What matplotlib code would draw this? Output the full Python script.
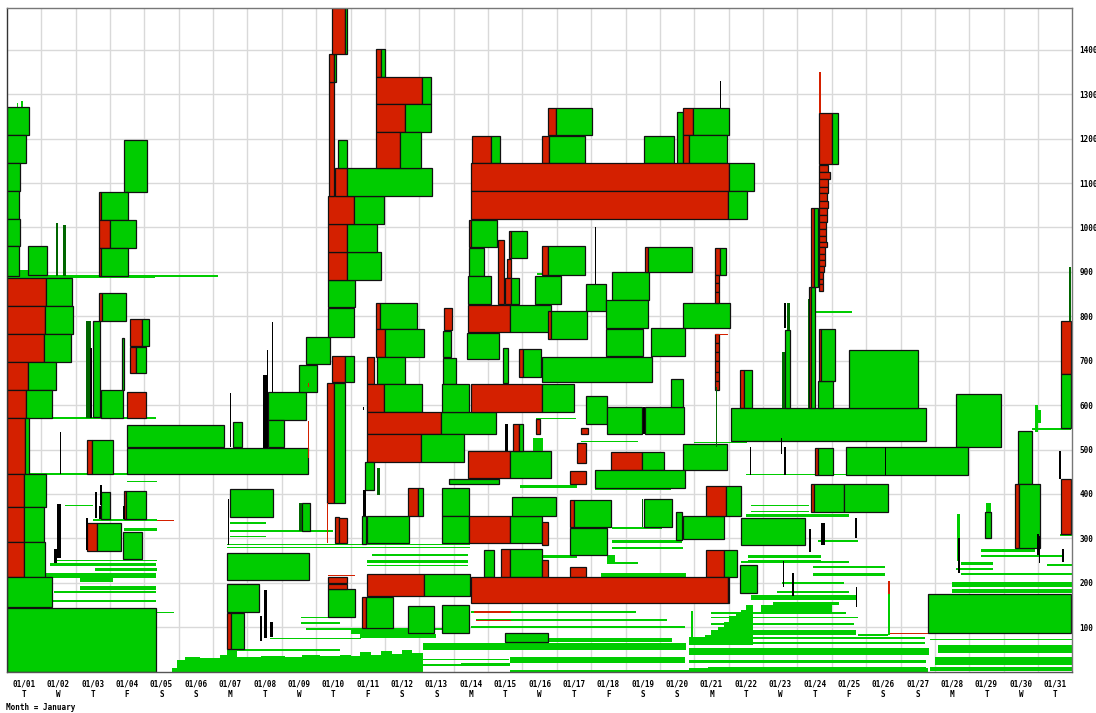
#Month view of blocks per day, red part then green part
import matplotlib
matplotlib.use('Agg')
import matplotlib.pyplot as plt

green = '#00cc00'
dark_green = '#006600'
red = '#d42000'

day_labels = ['01/%02d' % d for d in range(1, 32)]
weekdays = list('TWTFSSMTWTFSSMTWTFSSMTWTFSSMTWT')
value_ticks = list(range(100, 1500, 100))

# (start day, day where red stops, end day, low, high)
blocks_week1 = [
    (0, 0, .64, 1209, 1271), (0, 0, .55, 1146, 1209), (0, 0, .38, 1083, 1146),
    (0, 0, .35, 1020, 1083), (0, 0, .38, 958, 1020), (0, 0, .35, 891, 958),
    (.62, .62, 1.16, 893, 958), (3.40, 3.40, 4.07, 1079, 1196),
    (2.67, 2.73, 3.52, 1016, 1079), (2.67, 3.01, 3.76, 954, 1016), (2.67, 2.73, 3.52, 891, 954),
    (0, 1.13, 1.89, 823, 886), (0, 1.10, 1.92, 760, 823), (0, 1.08, 1.86, 698, 760),
    (0, .625, 1.42, 635, 698), (0, .55, 1.31, 572, 635), (0, .52, .64, 446, 570),
    (0, .49, 1.13, 370, 446), (0, .49, 1.08, 292, 370), (0, .49, 1.10, 213, 292),
    (0, 0, 1.32, 146, 213), (0, 0, 4.35, 0, 144),
    (2.75, 2.75, 3.37, 572, 635), (3.50, 4.05, 4.05, 572, 630), (3.59, 3.76, 4.06, 672, 731),
    (3.59, 3.93, 4.15, 733, 793), (2.67, 2.76, 3.48, 789, 852), (2.52, 2.52, 2.71, 573, 789),
    (3.34, 3.34, 3.41, 635, 750), (3.49, 3.49, 6.33, 505, 555), (3.49, 3.49, 8.76, 446, 503),
    (6.59, 6.59, 6.84, 505, 563), (2.34, 2.49, 3.09, 446, 522),
    (2.75, 2.75, 3.01, 343, 404), (3.42, 3.48, 4.05, 343, 406), (2.34, 2.61, 3.32, 271, 334),
    (3.37, 3.37, 3.93, 253, 315),
    (6.50, 6.50, 7.73, 347, 410), (6.40, 6.40, 8.78, 207, 268), (6.40, 6.40, 7.33, 135, 198),
    (6.40, 6.51, 6.91, 52, 132), (7.61, 7.61, 8.70, 566, 629), (7.61, 7.61, 8.06, 505, 566),
    (8.50, 8.50, 9.01, 629, 690), (8.70, 8.70, 9.40, 692, 754), (8.60, 8.60, 8.81, 317, 379),
]

blocks_week2 = [
    (9.32, 9.51, 9.85, 380, 650), (9.47, 9.85, 10.10, 651, 710), (9.35, 9.35, 10.12, 124, 187),
    (9.35, 9.91, 9.91, 187, 198), (9.35, 9.91, 9.91, 200, 213), (9.54, 9.65, 9.65, 290, 347),
    (9.67, 9.91, 9.91, 290, 345), (9.35, 9.35, 10.10, 754, 818), (9.35, 9.35, 10.12, 820, 882),
    (9.35, 9.91, 10.89, 882, 944), (9.35, 9.91, 10.77, 944, 1008), (9.35, 10.10, 10.97, 1008, 1071),
    (9.55, 9.91, 12.36, 1071, 1133), (9.375, 9.51, 9.51, 1071, 1328), (9.375, 9.51, 9.59, 1328, 1391),
    (9.47, 9.85, 9.91, 1391, 1495), (9.63, 9.63, 9.90, 1133, 1196),
    (10.74, 10.88, 11.00, 1338, 1401), (10.74, 12.08, 12.33, 1277, 1338),
    (10.74, 11.58, 12.33, 1216, 1277), (10.74, 11.44, 12.05, 1133, 1216),
    (10.73, 10.85, 11.94, 771, 830), (10.73, 11.00, 12.13, 708, 771),
    (10.76, 10.76, 11.58, 647, 709), (10.49, 10.68, 10.68, 647, 709),
    (10.49, 10.97, 12.09, 584, 647), (10.49, 12.64, 14.23, 535, 584), (10.49, 12.05, 13.31, 473, 534),
    (11.68, 11.95, 12.11, 351, 413), (10.49, 10.49, 11.69, 289, 351), (10.34, 10.34, 10.44, 288, 351),
    (10.42, 10.42, 10.68, 409, 471), (10.49, 12.13, 13.47, 171, 220), (10.34, 10.46, 11.24, 99, 168),
    (11.67, 11.67, 12.44, 87, 148), (12.72, 12.94, 12.94, 769, 819), (12.69, 12.69, 12.91, 708, 767),
    (12.70, 12.70, 13.08, 647, 705), (12.67, 12.67, 13.44, 584, 647), (12.67, 12.67, 13.44, 351, 414),
    (12.67, 12.67, 13.44, 289, 351), (12.67, 12.67, 13.44, 87, 151), (12.87, 12.87, 14.31, 423, 434),
    (13.44, 14.65, 15.57, 289, 351), (13.42, 14.65, 15.82, 436, 497),
]

blocks_week3 = [
    (13.53, 14.09, 14.35, 1144, 1207), (15.57, 15.76, 16.83, 1144, 1207), (15.73, 15.97, 17.01, 1208, 1270),
    (18.55, 18.55, 19.41, 1144, 1207), (19.50, 19.50, 19.67, 1144, 1261), (19.67, 19.95, 21.01, 1208, 1270),
    (19.67, 19.86, 20.95, 1144, 1208), (13.50, 21.01, 21.74, 1082, 1144), (13.50, 20.97, 21.52, 1018, 1082),
    (13.45, 13.50, 14.25, 955, 1016), (13.45, 13.45, 13.89, 891, 954), (13.42, 13.42, 14.08, 828, 891),
    (14.30, 14.45, 14.45, 827, 971), (14.54, 14.66, 14.66, 886, 930), (14.60, 14.66, 15.12, 932, 993),
    (14.50, 14.66, 14.89, 828, 886), (15.57, 15.73, 16.83, 893, 958), (15.38, 15.38, 16.13, 828, 891),
    (16.85, 16.85, 17.44, 811, 873), (17.60, 17.60, 18.69, 837, 899), (17.44, 17.44, 18.66, 774, 837),
    (18.57, 18.66, 19.92, 899, 955), (19.67, 19.67, 21.03, 774, 830), (18.74, 18.74, 19.72, 710, 774),
    (17.44, 17.44, 18.52, 710, 771), (13.42, 14.65, 15.82, 765, 825), (15.73, 15.82, 16.88, 748, 811),
    (13.40, 13.40, 14.31, 703, 763), (14.44, 14.44, 14.59, 649, 728), (14.90, 15.01, 15.54, 664, 726),
    (15.57, 15.57, 18.76, 651, 708), (13.50, 15.57, 16.49, 584, 647),
    (16.85, 16.85, 17.45, 557, 620), (17.45, 17.45, 18.49, 534, 596), (18.58, 18.58, 19.69, 534, 596),
    (19.33, 19.33, 19.67, 596, 659), (16.70, 16.90, 16.90, 535, 549), (19.66, 19.66, 20.95, 455, 512),
    (17.57, 18.49, 19.11, 455, 494), (17.12, 17.12, 19.72, 413, 455), (16.58, 16.84, 16.84, 469, 514),
    (16.38, 16.85, 16.85, 423, 451), (14.69, 14.69, 15.97, 351, 394), (15.57, 15.75, 15.75, 284, 336),
    (14.73, 14.90, 15.01, 497, 557), (15.40, 15.52, 15.52, 535, 569), (16.38, 16.49, 17.59, 325, 386),
    (16.38, 16.38, 17.45, 262, 323), (19.47, 19.47, 19.65, 297, 359), (19.67, 19.67, 20.87, 298, 351),
    (18.55, 18.55, 19.34, 325, 388), (20.34, 20.91, 21.37, 351, 417), (20.34, 20.87, 21.24, 213, 274),
    (13.89, 13.89, 14.17, 213, 274), (14.37, 14.65, 15.57, 213, 275), (15.57, 15.73, 15.73, 213, 251),
    (16.38, 16.84, 16.84, 213, 235), (13.50, 20.97, 21.01, 154, 213), (14.50, 14.50, 15.73, 66, 88),
    (20.60, 20.76, 20.91, 893, 954),
]

blocks_late = [
    (21.34, 21.46, 21.68, 593, 680), (21.06, 21.06, 26.73, 519, 593), (24.49, 24.49, 26.52, 594, 724),
    (27.61, 27.61, 28.91, 505, 625), (24.41, 24.41, 27.96, 442, 505), (23.60, 23.60, 24.03, 594, 654),
    (23.63, 23.70, 24.10, 654, 772), (22.65, 22.65, 22.77, 594, 769), (23.34, 23.41, 23.50, 594, 865),
    (23.40, 23.47, 23.60, 865, 1043), (23.63, 24.02, 24.19, 1142, 1257),
    (30.66, 30.95, 30.95, 669, 789), (30.66, 30.66, 30.95, 549, 669), (30.66, 30.95, 30.95, 309, 434),
    (29.41, 29.41, 29.83, 422, 542), (29.33, 29.44, 30.07, 279, 422), (26.81, 26.81, 30.97, 87, 174),
    (23.40, 23.48, 24.37, 359, 422), (24.37, 24.37, 25.65, 359, 422), (23.51, 23.60, 24.03, 442, 503),
    (21.36, 21.36, 23.22, 284, 345), (21.34, 21.34, 21.82, 176, 239), (28.45, 28.45, 28.64, 300, 359),
]

# narrow red stack near 01/24
ladder_edges = [1141, 1124, 1108, 1092, 1077, 1060, 1044, 1028, 1013, 997, 981, 968, 955, 940, 927, 913, 899, 885, 873, 858]
ladder_ends = [23.90, 23.94, 23.89, 23.89, 23.86, 23.90, 23.87, 23.87, 23.84, 23.84, 23.82, 23.85, 23.80, 23.79, 23.79, 23.77, 23.75, 23.75, 23.75]

# narrow red stack near 01/21
small_ladder_edges = [893, 875, 855, 830, 760, 740, 720, 700, 675, 655, 635]

# (start day, end day, low, high)
green_streaks = [
    (0, 4.32, 886, 893), (4.32, 6.15, 888, 892), (0, 4.35, 568, 573), (0, 4.35, 443, 447),
    (1.44, 4.37, 248, 251), (1.26, 4.35, 238, 244), (2.58, 4.37, 227, 234), (1.15, 4.35, 210, 221),
    (2.14, 3.10, 202, 210), (2.14, 4.35, 184, 193), (1.36, 4.35, 176, 182), (1.32, 4.35, 156, 162),
    (4.32, 4.85, 131, 135), (.30, .34, 1271, 1280), (.42, .46, 1271, 1285), (.35, .62, 891, 905),
    (3.50, 4.36, 426, 429), (2.52, 4.36, 340, 343), (3.40, 4.37, 316, 324), (1.70, 2.50, 372, 375),
    (6.50, 7.53, 333, 336), (6.50, 9.50, 315, 319), (6.50, 7.53, 303, 306), (6.40, 13.47, 285, 288),
    (6.40, 13.47, 278, 281), (10.61, 13.42, 260, 264), (10.49, 13.41, 245, 251), (10.49, 13.41, 238, 240),
    (6.45, 9.70, 47, 52), (7.66, 10.30, 74, 76), (8.55, 9.70, 120, 123), (8.55, 9.70, 107, 111),
    (8.70, 12.70, 94, 99), (10.28, 12.50, 76, 84), (10.00, 12.44, 85, 93),
    (13.50, 18.30, 132, 137), (13.65, 19.20, 113, 119), (13.50, 19.72, 98, 103),
    (15.75, 19.36, 66, 76), (12.11, 19.77, 48, 64), (14.65, 19.72, 19, 33), (14.65, 20.00, 0, 4),
    (12.11, 14.65, 12, 16), (12.11, 14.60, 25, 28), (13.20, 14.65, 17, 20),
    (15.40, 16.55, 569, 572), (14.93, 16.60, 413, 420), (17.10, 19.33, 409, 412),
    (16.70, 18.35, 518, 520), (17.60, 19.05, 322, 325), (17.60, 19.65, 290, 296), (17.60, 19.66, 277, 281),
    (15.60, 16.60, 256, 262), (17.45, 17.70, 245, 262), (17.45, 18.35, 243, 246), (17.30, 19.75, 214, 222),
    (19.90, 19.95, 75, 137), (15.30, 15.60, 497, 525), (15.42, 16.55, 893, 897),
    (20.50, 24.41, 129, 135), (20.50, 24.75, 120, 123), (20.50, 24.66, 104, 110), (20.50, 24.70, 82, 93),
    (19.85, 26.70, 73, 77), (19.85, 26.70, 62, 66), (19.85, 26.82, 37, 54), (19.85, 26.73, 19, 26),
    (20.40, 26.73, 9, 11), (19.85, 26.80, 0, 7), (21.55, 23.70, 256, 262), (21.55, 23.70, 249, 251),
    (21.37, 24.50, 245, 248), (23.46, 25.55, 234, 237), (23.46, 25.55, 215, 222), (22.56, 24.37, 197, 201),
    (21.64, 24.70, 161, 172), (21.95, 24.00, 135, 150), (22.30, 24.20, 150, 157), (22.40, 24.50, 178, 181),
    (23.60, 24.75, 292, 296), (21.65, 23.35, 372, 376), (21.65, 23.35, 360, 362), (21.50, 24.50, 349, 355),
    (21.50, 24.41, 443, 446), (20.00, 21.52, 515, 517), (23.55, 24.60, 808, 813),
    (27.50, 31, 191, 202), (27.50, 31, 176, 186), (27.75, 28.70, 239, 246), (27.75, 31, 218, 222),
    (27.60, 28.70, 228, 233), (28.35, 29.90, 270, 277), (28.35, 30.70, 258, 263), (26.85, 31, 71, 74),
    (27.10, 31, 43, 60), (27.00, 31, 15, 33), (26.85, 31, 1, 11), (29.83, 30.95, 545, 548),
    (30.65, 31, 305, 310), (30.25, 31, 238, 243), (29.92, 30.00, 540, 600), (30.00, 30.10, 560, 590),
    (28.50, 28.62, 360, 380), (27.65, 27.72, 250, 355), (25.65, 25.70, 83, 175), (24.75, 25.65, 80, 84),
    (25.70, 26.80, 85, 88),
]

red_streaks = [
    (4.36, 4.85, 426, 428), (4.36, 4.85, 340, 342), (9.35, 10.12, 215, 218), (13.60, 14.66, 132, 136),
    (13.65, 14.66, 113, 117), (25.65, 25.70, 175, 205), (25.70, 26.80, 85, 87), (20.60, 20.97, 757, 761),
    (23.63, 23.68, 1257, 1350), (9.31, 9.34, 290, 380), (8.75, 8.78, 480, 565), (8.75, 8.78, 640, 650),
]

dark_spikes = [
    (1.42, 1.48, 891, 1010), (1.63, 1.71, 891, 1006), (2.30, 2.44, 572, 790), (8.50, 8.60, 317, 379),
    (10.76, 10.85, 397, 458), (18.49, 18.52, 325, 388), (22.56, 22.65, 594, 720), (30.90, 30.97, 789, 910),
    (23.65, 23.68, 1257, 1340), (22.70, 22.77, 769, 830), (23.30, 23.33, 594, 840), (20.62, 20.66, 505, 640),
]

black_spikes = [
    (2.42, 2.49, 572, 728), (7.46, 7.60, 504, 668), (7.57, 7.60, 668, 724), (7.71, 7.73, 630, 788),
    (6.49, 6.53, 505, 628), (1.55, 1.59, 446, 539), (1.46, 1.58, 255, 377), (1.38, 1.46, 245, 275),
    (6.43, 6.47, 284, 388), (7.37, 7.43, 69, 126), (7.49, 7.56, 75, 183), (7.66, 7.74, 78, 112),
    (2.57, 2.62, 345, 405), (2.72, 2.76, 375, 420), (2.67, 2.75, 343, 373), (2.29, 2.35, 273, 345),
    (3.38, 3.44, 343, 372), (14.50, 14.59, 496, 557), (18.52, 18.58, 534, 596), (10.37, 10.44, 351, 409),
    (10.37, 10.40, 590, 596), (20.74, 20.77, 1270, 1330), (17.11, 17.13, 873, 1000), (22.62, 22.66, 774, 830),
    (22.57, 22.60, 190, 250), (22.85, 22.90, 170, 222), (23.35, 23.39, 270, 320), (24.68, 24.72, 300, 345),
    (24.70, 24.73, 145, 190), (25.55, 25.58, 442, 505), (21.63, 21.66, 442, 505), (22.62, 22.66, 442, 505),
    (22.52, 22.56, 490, 525), (23.68, 23.80, 285, 335), (27.66, 27.74, 222, 300), (30.02, 30.06, 245, 305),
    (30.62, 30.66, 434, 497), (29.98, 30.04, 262, 310), (30.70, 30.76, 247, 275),
]

# step outline of the low green floor
floor_days = [4.81, 4.95, 5.19, 5.63, 6.21, 6.40, 6.69, 7.40, 8.10, 8.60, 9.10, 9.69, 10.00, 10.28, 10.60, 10.90, 11.20, 11.50, 11.80, 12.11]
floor_tops = [8, 26, 33, 30, 37, 48, 33, 35, 33, 38, 36, 37, 34, 44, 38, 46, 40, 48, 43, 43]

ramp_days = [19.85, 20.30, 20.50, 20.70, 20.85, 21.00, 21.20, 21.35, 21.50, 21.70]
ramp_tops = [78, 82, 85, 100, 112, 125, 130, 138, 150, 125]


fig = plt.figure(figsize=(10.96, 7.13), dpi=100)
ax = fig.add_axes([6.8 / 1096, 1 - 671.6 / 713, 1065.6 / 1096, 664 / 713])
ax.set_xlim(0, 31)
ax.set_ylim(0, 1495)

for d in range(1, 31):
    ax.axvline(d, color='#d9d9d9', lw=1, zorder=0)
for v in value_ticks:
    ax.axhline(v, color='#d9d9d9', lw=1, zorder=0)

ax.fill_between(floor_days, floor_tops, step='post', color=green, lw=0, zorder=1)
ax.fill_between(ramp_days, 60, ramp_tops, step='post', color=green, lw=0, zorder=1)

for s, e, low, high in green_streaks:
    ax.bar(s, high - low, e - s, bottom=low, align='edge', color=green, lw=0, zorder=2)
for s, e, low, high in red_streaks:
    ax.bar(s, high - low, e - s, bottom=low, align='edge', color=red, lw=0, zorder=5)

for s, split, e, low, high in blocks_week1 + blocks_week2 + blocks_week3 + blocks_late:
    if split > s:
        ax.bar(s, high - low, split - s, bottom=low, align='edge', color=red, edgecolor='#111111', lw=0.9, zorder=3)
    if e > split:
        ax.bar(split, high - low, e - split, bottom=low, align='edge', color=green, edgecolor='#111111', lw=0.9, zorder=3)

for i in range(len(ladder_ends)):
    ax.bar(23.63, ladder_edges[i] - ladder_edges[i + 1], ladder_ends[i] - 23.63, bottom=ladder_edges[i + 1],
           align='edge', color=red, edgecolor='#111111', lw=0.9, zorder=3)
for i in range(len(small_ladder_edges) - 1):
    if small_ladder_edges[i] == 830:
        continue
    ax.bar(20.60, small_ladder_edges[i] - small_ladder_edges[i + 1], .12, bottom=small_ladder_edges[i + 1],
           align='edge', color=red, edgecolor='#111111', lw=0.9, zorder=3)

for s, e, low, high in dark_spikes:
    ax.bar(s, high - low, e - s, bottom=low, align='edge', color=dark_green, lw=0, zorder=4)
for s, e, low, high in black_spikes:
    ax.bar(s, high - low, e - s, bottom=low, align='edge', color='black', lw=0, zorder=4)

ax.set_xticks([d + .5 for d in range(31)])
ax.set_xticklabels([a + '\n' + b for a, b in zip(day_labels, weekdays)], linespacing=1.1,
                   family='DejaVu Sans Mono', fontweight='bold', fontsize=5.5)
ax.yaxis.tick_right()
ax.set_yticks(value_ticks)
ax.set_yticklabels([str(v) for v in value_ticks], family='DejaVu Sans Mono', fontweight='bold', fontsize=5.5)
ax.tick_params(length=0, pad=6)
ax.tick_params(axis='y', pad=5)

for side in ['top', 'right']:
    ax.spines[side].set_color('#777777')
ax.spines['left'].set_color('#333333')
ax.spines['bottom'].set_color('#555555')
for side in ax.spines:
    ax.spines[side].set_linewidth(1.0)
    ax.spines[side].set_zorder(6)

fig.text(6 / 1096, 1 - 707 / 713, 'Month = January', family='DejaVu Sans Mono', fontweight='bold',
         fontsize=5.5, va='center', ha='left')

fig.savefig('out.png', dpi=100)
